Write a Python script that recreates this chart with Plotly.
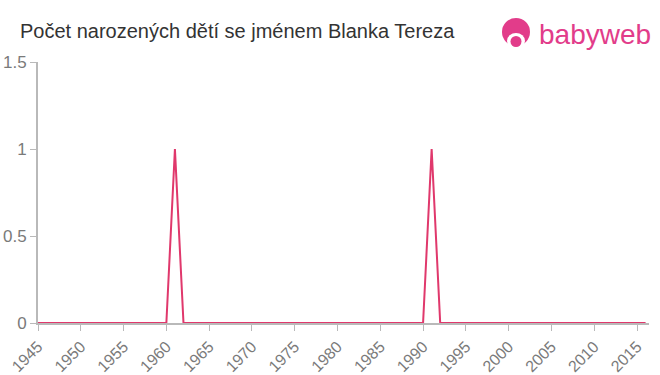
import plotly.graph_objects as go

years = [1945, 1946, 1947, 1948, 1949, 1950, 1951, 1952, 1953, 1954,
         1955, 1956, 1957, 1958, 1959, 1960, 1961, 1962, 1963, 1964,
         1965, 1966, 1967, 1968, 1969, 1970, 1971, 1972, 1973, 1974,
         1975, 1976, 1977, 1978, 1979, 1980, 1981, 1982, 1983, 1984,
         1985, 1986, 1987, 1988, 1989, 1990, 1991, 1992, 1993, 1994,
         1995, 1996, 1997, 1998, 1999, 2000, 2001, 2002, 2003, 2004,
         2005, 2006, 2007, 2008, 2009, 2010, 2011, 2012, 2013, 2014,
         2015, 2016]
births = [0, 0, 0, 0, 0, 0, 0, 0, 0, 0,
          0, 0, 0, 0, 0, 0, 1, 0, 0, 0,
          0, 0, 0, 0, 0, 0, 0, 0, 0, 0,
          0, 0, 0, 0, 0, 0, 0, 0, 0, 0,
          0, 0, 0, 0, 0, 0, 1, 0, 0, 0,
          0, 0, 0, 0, 0, 0, 0, 0, 0, 0,
          0, 0, 0, 0, 0, 0, 0, 0, 0, 0,
          0, 0]
x_ticks = [1945, 1950, 1955, 1960, 1965, 1970, 1975, 1980, 1985, 1990,
           1995, 2000, 2005, 2010, 2015]
y_ticks = [0, 0.5, 1, 1.5]
y_tick_labels = ["0", "0.5", "1", "1.5"]

title_text = "Počet narozených dětí se jménem Blanka Tereza"

W, H = 660, 375
L, R, T, B = 38, 11, 62, 52
PW, PH = W - L - R, H - T - B


def px(x):
    return (x - L) / PW


def py(y):
    return (H - B - y) / PH


fig = go.Figure()
fig.add_trace(go.Scatter(
    x=years, y=births, mode="lines",
    line=dict(color="#e0386c", width=2),
    hoverinfo="x+y", showlegend=False, cliponaxis=False,
))

axis_col = "#b9b9b9"
FONT = "Liberation Sans, Arial, sans-serif"

fig.update_layout(
    width=W, height=H,
    margin=dict(l=L, r=R, t=T, b=B),
    paper_bgcolor="white", plot_bgcolor="white",
    title=dict(text=title_text, x=20 / W, xanchor="left", y=1 - 31 / H, yanchor="middle",
               font=dict(family=FONT, size=20, color="#333333")),
    xaxis=dict(range=[1945, 2016.4], tickmode="array", tickvals=x_ticks,
               ticktext=[str(t) for t in x_ticks], tickangle=-45, automargin=False,
               showgrid=False, zeroline=False, showline=True, linecolor=axis_col, linewidth=2,
               ticks="outside", ticklen=6, tickcolor=axis_col, tickwidth=1,
               tickfont=dict(family=FONT, size=16, color="#7a7a7a"),
               layer="below traces", fixedrange=True),
    yaxis=dict(range=[0, 1.5], tickmode="array", tickvals=y_ticks, ticktext=y_tick_labels,
               automargin=False,
               showgrid=False, zeroline=False, showline=True, linecolor=axis_col, linewidth=2,
               ticks="outside", ticklen=6, tickcolor=axis_col, tickwidth=1,
               tickfont=dict(family=FONT, size=17, color="#7a7a7a"),
               layer="below traces", fixedrange=True),
)

logo_col = "#e23c8a"
fig.add_shape(type="circle", xref="paper", yref="paper",
              x0=px(502), x1=px(530), y0=py(46), y1=py(18),
              fillcolor=logo_col, line=dict(width=0), layer="above")
fig.add_shape(type="circle", xref="paper", yref="paper",
              x0=px(507), x1=px(525), y0=py(49), y1=py(33),
              fillcolor="white", line=dict(width=0), layer="above")
fig.add_shape(type="circle", xref="paper", yref="paper",
              x0=px(510.5), x1=px(521.5), y0=py(47), y1=py(36),
              fillcolor=logo_col, line=dict(width=0), layer="above")
fig.add_annotation(text="babyweb", xref="paper", yref="paper",
                   x=px(537), y=py(34), xanchor="left", yanchor="middle",
                   showarrow=False,
                   font=dict(family=FONT, size=28, color=logo_col))

fig.write_html("out.html")
